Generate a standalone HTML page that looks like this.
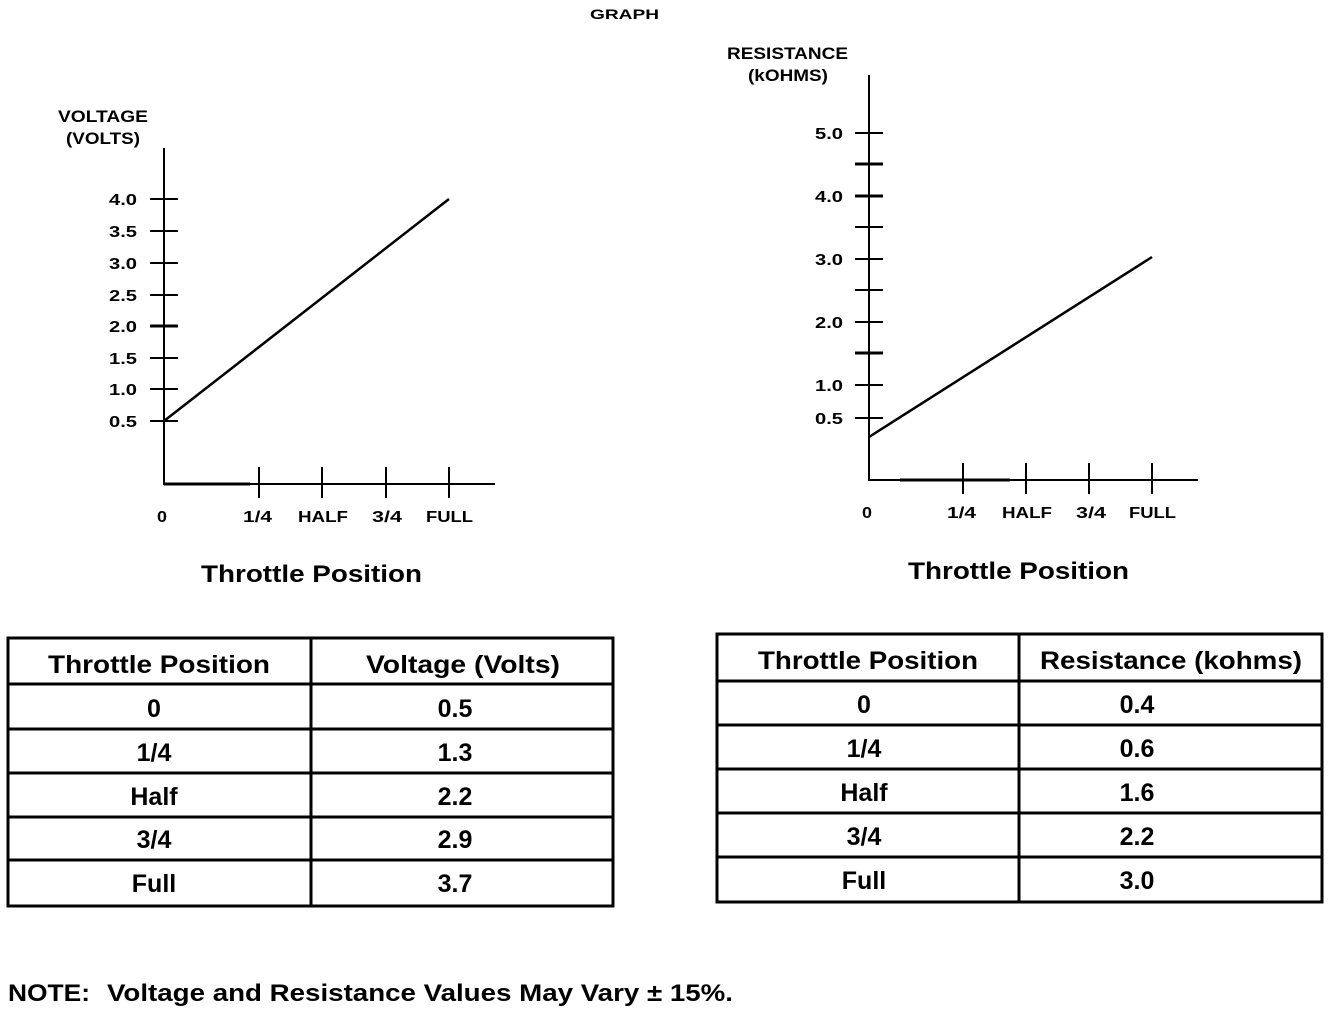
<!DOCTYPE html>
<html><head><meta charset="utf-8"><style>
html,body{margin:0;padding:0;background:#fff;}
svg{display:block;}
text{font-family:"Liberation Sans",Arial,sans-serif;font-weight:bold;fill:#000;}
</style></head><body>
<svg width="1344" height="1012" viewBox="0 0 1344 1012" xmlns="http://www.w3.org/2000/svg">
<text x="590" y="19" font-size="14" textLength="69" lengthAdjust="spacingAndGlyphs">GRAPH</text>

<!-- Left chart -->
<g stroke="#000" stroke-width="2" fill="none">
<line x1="164" y1="148" x2="164" y2="485"/>
<line x1="164" y1="484" x2="495" y2="484"/>
<line x1="164" y1="484" x2="250" y2="484" stroke-width="3"/>
<line x1="150" y1="199" x2="178" y2="199"/>
<line x1="150" y1="231" x2="178" y2="231"/>
<line x1="150" y1="263" x2="178" y2="263"/>
<line x1="150" y1="295" x2="178" y2="295"/>
<line x1="150" y1="326" x2="178" y2="326" stroke-width="3"/>
<line x1="150" y1="358" x2="178" y2="358"/>
<line x1="150" y1="389" x2="178" y2="389"/>
<line x1="150" y1="421" x2="178" y2="421"/>
<line x1="259" y1="467" x2="259" y2="498"/>
<line x1="322" y1="467" x2="322" y2="498"/>
<line x1="386" y1="467" x2="386" y2="498"/>
<line x1="449" y1="467" x2="449" y2="498"/>
<line x1="164" y1="421" x2="449" y2="199" stroke-width="2.5"/>
</g>
<g font-size="16">
<text x="109" y="205" textLength="28" lengthAdjust="spacingAndGlyphs">4.0</text>
<text x="109" y="237" textLength="28" lengthAdjust="spacingAndGlyphs">3.5</text>
<text x="109" y="269" textLength="28" lengthAdjust="spacingAndGlyphs">3.0</text>
<text x="109" y="301" textLength="28" lengthAdjust="spacingAndGlyphs">2.5</text>
<text x="109" y="332" textLength="28" lengthAdjust="spacingAndGlyphs">2.0</text>
<text x="109" y="364" textLength="28" lengthAdjust="spacingAndGlyphs">1.5</text>
<text x="109" y="395" textLength="28" lengthAdjust="spacingAndGlyphs">1.0</text>
<text x="109" y="427" textLength="28" lengthAdjust="spacingAndGlyphs">0.5</text>
</g>
<text x="58" y="122" font-size="17" textLength="90" lengthAdjust="spacingAndGlyphs">VOLTAGE</text>
<text x="66" y="144" font-size="17" textLength="74" lengthAdjust="spacingAndGlyphs">(VOLTS)</text>
<g font-size="16">
<text x="157" y="522" textLength="10" lengthAdjust="spacingAndGlyphs">0</text>
<text x="243" y="522" textLength="29" lengthAdjust="spacingAndGlyphs">1/4</text>
<text x="298" y="522" textLength="50" lengthAdjust="spacingAndGlyphs">HALF</text>
<text x="372" y="522" textLength="30" lengthAdjust="spacingAndGlyphs">3/4</text>
<text x="426" y="522" textLength="47" lengthAdjust="spacingAndGlyphs">FULL</text>
</g>
<text x="201" y="582" font-size="24" textLength="221" lengthAdjust="spacingAndGlyphs">Throttle Position</text>

<!-- Right chart -->
<g stroke="#000" stroke-width="2" fill="none">
<line x1="869" y1="75" x2="869" y2="481"/>
<line x1="869" y1="480" x2="1198" y2="480"/>
<line x1="900" y1="480" x2="1010" y2="480" stroke-width="3"/>
<line x1="855" y1="133" x2="883" y2="133"/>
<line x1="855" y1="164" x2="883" y2="164" stroke-width="3"/>
<line x1="855" y1="196" x2="883" y2="196" stroke-width="3"/>
<line x1="855" y1="227" x2="883" y2="227"/>
<line x1="855" y1="259" x2="883" y2="259"/>
<line x1="855" y1="290" x2="883" y2="290"/>
<line x1="855" y1="322" x2="883" y2="322"/>
<line x1="855" y1="353" x2="883" y2="353" stroke-width="3"/>
<line x1="855" y1="385" x2="883" y2="385"/>
<line x1="855" y1="418" x2="883" y2="418"/>
<line x1="963" y1="463" x2="963" y2="494"/>
<line x1="1026" y1="463" x2="1026" y2="494"/>
<line x1="1089" y1="463" x2="1089" y2="494"/>
<line x1="1152" y1="463" x2="1152" y2="494"/>
<line x1="869" y1="437" x2="1152" y2="257" stroke-width="2.5"/>
</g>
<g font-size="16">
<text x="815" y="139" textLength="28" lengthAdjust="spacingAndGlyphs">5.0</text>
<text x="815" y="202" textLength="28" lengthAdjust="spacingAndGlyphs">4.0</text>
<text x="815" y="265" textLength="28" lengthAdjust="spacingAndGlyphs">3.0</text>
<text x="815" y="328" textLength="28" lengthAdjust="spacingAndGlyphs">2.0</text>
<text x="815" y="391" textLength="28" lengthAdjust="spacingAndGlyphs">1.0</text>
<text x="815" y="424" textLength="28" lengthAdjust="spacingAndGlyphs">0.5</text>
</g>
<text x="727" y="59" font-size="17" textLength="121" lengthAdjust="spacingAndGlyphs">RESISTANCE</text>
<text x="748" y="81" font-size="17" textLength="80" lengthAdjust="spacingAndGlyphs">(kOHMS)</text>
<g font-size="16">
<text x="862" y="518" textLength="10" lengthAdjust="spacingAndGlyphs">0</text>
<text x="947" y="518" textLength="29" lengthAdjust="spacingAndGlyphs">1/4</text>
<text x="1002" y="518" textLength="50" lengthAdjust="spacingAndGlyphs">HALF</text>
<text x="1076" y="518" textLength="30" lengthAdjust="spacingAndGlyphs">3/4</text>
<text x="1129" y="518" textLength="47" lengthAdjust="spacingAndGlyphs">FULL</text>
</g>
<text x="908" y="579" font-size="24" textLength="221" lengthAdjust="spacingAndGlyphs">Throttle Position</text>

<!-- Left table -->
<g stroke="#000" stroke-width="3" fill="none">
<rect x="8" y="638" width="605" height="268"/>
<line x1="311" y1="638" x2="311" y2="906"/>
<line x1="8" y1="684" x2="613" y2="684"/>
<line x1="8" y1="729" x2="613" y2="729"/>
<line x1="8" y1="773" x2="613" y2="773"/>
<line x1="8" y1="817" x2="613" y2="817"/>
<line x1="8" y1="860" x2="613" y2="860"/>
</g>
<g font-size="25">
<text x="48" y="673" textLength="222" lengthAdjust="spacingAndGlyphs">Throttle Position</text>
<text x="366" y="673" textLength="194" lengthAdjust="spacingAndGlyphs">Voltage (Volts)</text>
</g>
<g font-size="25" text-anchor="middle">
<text x="154" y="717">0</text><text x="455" y="717">0.5</text>
<text x="154" y="761">1/4</text><text x="455" y="761">1.3</text>
<text x="154" y="805">Half</text><text x="455" y="805">2.2</text>
<text x="154" y="848">3/4</text><text x="455" y="848">2.9</text>
<text x="154" y="892">Full</text><text x="455" y="892">3.7</text>
</g>

<!-- Right table -->
<g stroke="#000" stroke-width="3" fill="none">
<rect x="717" y="634" width="605" height="268"/>
<line x1="1019" y1="634" x2="1019" y2="902"/>
<line x1="717" y1="681" x2="1322" y2="681"/>
<line x1="717" y1="725" x2="1322" y2="725"/>
<line x1="717" y1="769" x2="1322" y2="769"/>
<line x1="717" y1="813" x2="1322" y2="813"/>
<line x1="717" y1="857" x2="1322" y2="857"/>
</g>
<g font-size="25">
<text x="758" y="669" textLength="220" lengthAdjust="spacingAndGlyphs">Throttle Position</text>
<text x="1040" y="669" textLength="262" lengthAdjust="spacingAndGlyphs">Resistance (kohms)</text>
</g>
<g font-size="25" text-anchor="middle">
<text x="864" y="713">0</text><text x="1137" y="713">0.4</text>
<text x="864" y="757">1/4</text><text x="1137" y="757">0.6</text>
<text x="864" y="801">Half</text><text x="1137" y="801">1.6</text>
<text x="864" y="845">3/4</text><text x="1137" y="845">2.2</text>
<text x="864" y="889">Full</text><text x="1137" y="889">3.0</text>
</g>

<text x="8" y="1001" font-size="24" textLength="82" lengthAdjust="spacingAndGlyphs">NOTE:</text>
<text x="107" y="1001" font-size="24" textLength="626" lengthAdjust="spacingAndGlyphs">Voltage and Resistance Values May Vary ± 15%.</text>
</svg>
</body></html>
